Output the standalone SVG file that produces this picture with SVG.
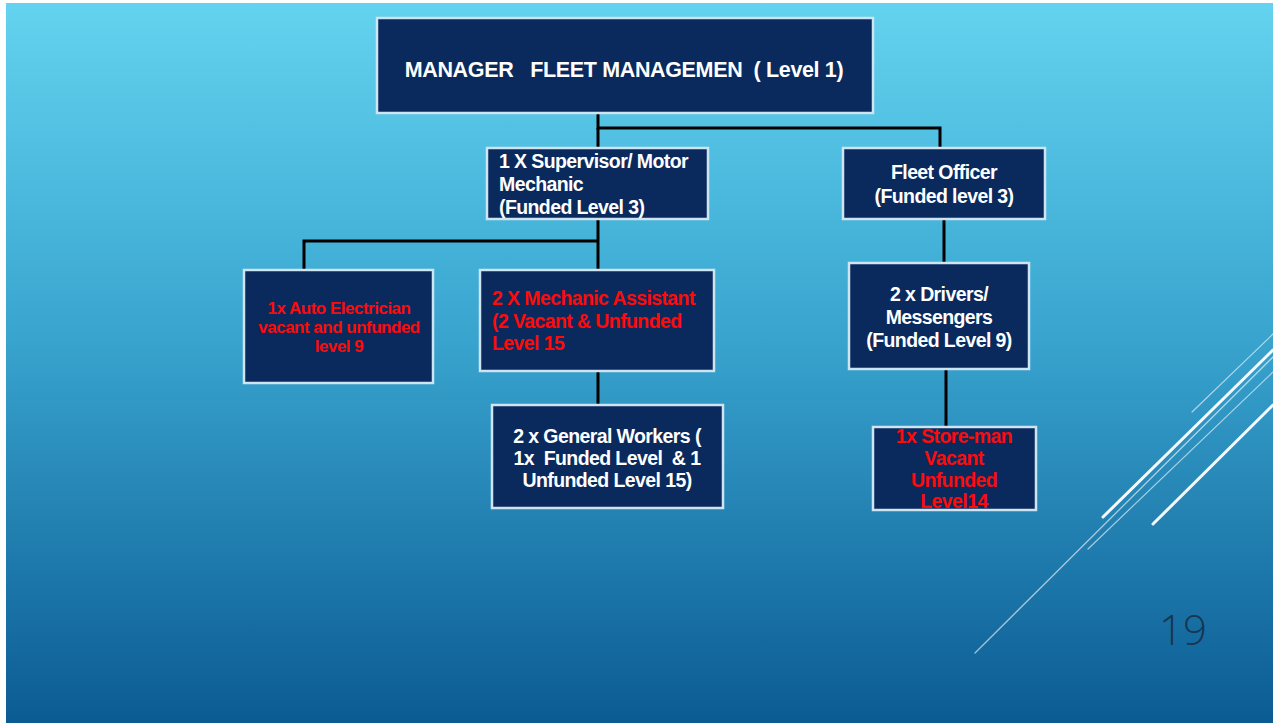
<svg xmlns="http://www.w3.org/2000/svg" width="1273" height="723" viewBox="0 0 1273 723">
<defs>
<linearGradient id="bg" x1="0" y1="0" x2="0" y2="1">
<stop offset="0" stop-color="#63d3ef"/>
<stop offset="0.45" stop-color="#3aa6d0"/>
<stop offset="1" stop-color="#0b5b93"/>
</linearGradient>
<style>
.box{fill:#0a2a5d;stroke:#cfe4f1;stroke-width:2.5}
.t{font-family:"Liberation Sans",Arial,sans-serif;font-weight:bold;font-size:19.5px;fill:#ffffff;letter-spacing:-0.6px;white-space:pre}
.r{fill:#ff0a0a}
.c{text-anchor:middle}
.con{stroke:#000000;stroke-width:3;fill:none}
.deco{stroke:#ffffff;fill:none;stroke-linecap:round}
</style>
</defs>
<rect x="0" y="0" width="1273" height="723" fill="#ffffff"/>
<rect x="6" y="3" width="1267" height="720" fill="url(#bg)"/>
<g id="decoration">
<line class="deco" x1="1192" y1="412" x2="1273" y2="334" stroke-width="1.2" stroke-opacity="0.6"/>
<line class="deco" x1="1103" y1="517" x2="1273" y2="350" stroke-width="3" stroke-opacity="0.95"/>
<line class="deco" x1="1088" y1="549" x2="1273" y2="372" stroke-width="1.2" stroke-opacity="0.6"/>
<line class="deco" x1="975" y1="653" x2="1273" y2="357" stroke-width="1.3" stroke-opacity="0.6"/>
<line class="deco" x1="1153" y1="524" x2="1273" y2="405" stroke-width="3" stroke-opacity="0.95"/>
</g>
<g id="connectors">
<polyline class="con" points="598,113 598,128 940,128 940,148"/>
<line class="con" x1="598" y1="128" x2="598" y2="148"/>
<polyline class="con" points="598,219 598,270"/>
<polyline class="con" points="598,241 304,241 304,270"/>
<line class="con" x1="598" y1="371" x2="598" y2="405"/>
<line class="con" x1="944" y1="219" x2="944" y2="263"/>
<line class="con" x1="946" y1="369" x2="946" y2="427"/>
</g>
<g id="manager">
<rect class="box" x="377" y="18" width="496" height="95"/>
<text class="t c" x="624" y="77" style="font-size:21.5px;letter-spacing:-0.35px">MANAGER   FLEET MANAGEMEN  ( Level 1)</text>
</g>
<g id="supervisor">
<rect class="box" x="487" y="148" width="221" height="71"/>
<text class="t" x="499" y="168">1 X Supervisor/ Motor</text>
<text class="t" x="499" y="191">Mechanic</text>
<text class="t" x="499" y="214">(Funded Level 3)</text>
</g>
<g id="fleet-officer">
<rect class="box" x="843" y="148" width="202" height="71"/>
<text class="t c" x="944" y="179">Fleet Officer</text>
<text class="t c" x="944" y="203">(Funded level 3)</text>
</g>
<g id="auto-electrician">
<rect class="box" x="244" y="270" width="189" height="113"/>
<text class="t r c" x="339" y="314" style="font-size:17px;letter-spacing:-0.5px">1x Auto Electrician</text>
<text class="t r c" x="339" y="333" style="font-size:17px;letter-spacing:-0.5px">vacant and unfunded</text>
<text class="t r c" x="339" y="352" style="font-size:17px;letter-spacing:-0.5px">level 9</text>
</g>
<g id="mechanic-assistant">
<rect class="box" x="480" y="270" width="234" height="101"/>
<text class="t r" x="492" y="305">2 X Mechanic Assistant</text>
<text class="t r" x="492" y="328">(2 Vacant &amp; Unfunded</text>
<text class="t r" x="492" y="350">Level 15</text>
</g>
<g id="general-workers">
<rect class="box" x="492" y="405" width="231" height="103"/>
<text class="t c" x="607" y="443">2 x General Workers (</text>
<text class="t c" x="607" y="465">1x  Funded Level  &amp; 1</text>
<text class="t c" x="607" y="487">Unfunded Level 15)</text>
</g>
<g id="drivers">
<rect class="box" x="849" y="263" width="180" height="106"/>
<text class="t c" x="939" y="301">2 x Drivers/</text>
<text class="t c" x="939" y="324">Messengers</text>
<text class="t c" x="939" y="347">(Funded Level 9)</text>
</g>
<g id="store-man">
<rect class="box" x="873" y="427" width="163" height="83"/>
<text class="t r c" x="954" y="443">1x Store-man</text>
<text class="t r c" x="954" y="465">Vacant</text>
<text class="t r c" x="954" y="487">Unfunded</text>
<text class="t r c" x="954" y="508">Level14</text>
</g>
<text x="1183" y="645" text-anchor="middle" font-family="'Open Sans','Liberation Sans',sans-serif" font-weight="300" font-size="42" fill="#173650">19</text>
</svg>
